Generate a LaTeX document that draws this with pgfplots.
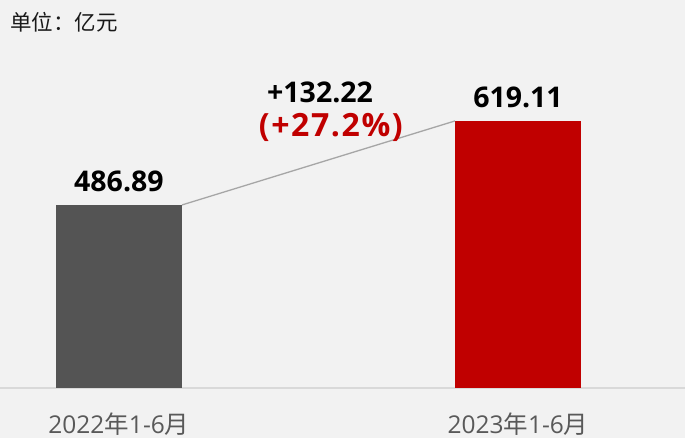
\documentclass[border=0pt]{standalone}
\usepackage{fontspec}
\setmainfont{Open Sans}
\newfontfamily\cjk{Noto Sans CJK SC}
\newfontfamily\spaced[LetterSpace=5]{Open Sans}
\usepackage{pgfplots}
\pgfplotsset{compat=1.18}
\definecolor{bgcol}{HTML}{F2F2F2}
\definecolor{bardark}{HTML}{545454}
\definecolor{barred}{HTML}{C00000}
\definecolor{linkgray}{HTML}{A6A6A6}
\definecolor{basegray}{HTML}{D9D9D9}
\definecolor{labgray}{HTML}{595959}

\begin{document}
\begin{tikzpicture}
  \fill[bgcol] (0,0) rectangle (685bp,438bp);
  \useasboundingbox (0,0) rectangle (685bp,438bp);
  \node[anchor=west, font=\fontsize{21.5bp}{25bp}\selectfont\cjk, text=black!90, inner sep=0pt]
    at (10bp,416bp) {单位：亿元};
  \begin{axis}[
    at={(0,50bp)}, anchor=south west,
    scale only axis, width=685bp, height=388bp,
    xmin=-0.298, xmax=1.4185,
    ymin=198.8, ymax=809.5,
    axis y line=none,
    axis x line=bottom,
    x axis line style={basegray, line width=2bp, -},
    xtick={0,1},
    xticklabels={2022{\cjk 年}1-6{\cjk 月}, 2023{\cjk 年}1-6{\cjk 月}},
    xticklabel style={anchor=base, yshift=-45bp, text=labgray,
      font=\fontsize{24.5bp}{28bp}\selectfont},
    major tick length=0pt,
    clip=false,
  ]
    \addplot[ybar, bar width=126bp, fill=bardark, draw=none, bar shift=0pt]
      coordinates {(0,486.89)};
    \addplot[ybar, bar width=126bp, fill=barred, draw=none, bar shift=0pt]
      coordinates {(1,619.11)};
    \addplot[linkgray, line width=1.3bp] coordinates {(0.158,486.89) (0.842,619.11)};
    \node[anchor=base, yshift=13bp, font=\fontsize{28.5bp}{32bp}\selectfont\bfseries]
      at (axis cs:0,486.89) {486.89};
    \node[anchor=base, yshift=13bp, font=\fontsize{28.5bp}{32bp}\selectfont\bfseries]
      at (axis cs:1,619.11) {619.11};
    \node[anchor=base, font=\fontsize{28.5bp}{32bp}\selectfont\bfseries]
      at (axis cs:0.504,647.4) {+132.22};
    \node[anchor=base, text=barred, font=\fontsize{32bp}{36bp}\selectfont\spaced\bfseries]
      at (axis cs:0.531,593.9) {(+27.2\%)};
  \end{axis}
\end{tikzpicture}
\end{document}
